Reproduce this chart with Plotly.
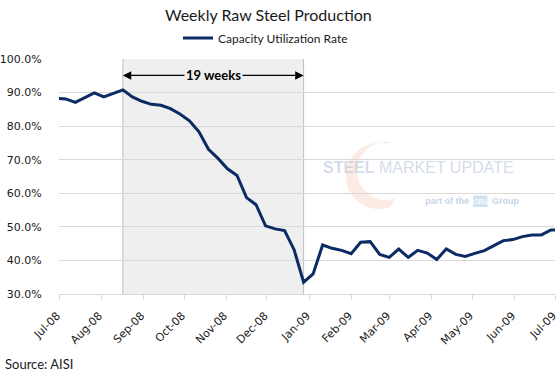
import math
import pandas as pd
import plotly.graph_objects as go

# ---------------- data ----------------
week_start = "2008-06-29"
n_weeks = 54
dates = [d.strftime("%Y-%m-%d") for d in pd.date_range(week_start, periods=n_weeks, freq="7D")]
utilization = [
    88.3, 88.1, 87.1, 88.5, 89.9, 88.7, 89.7, 90.8, 88.7, 87.4,
    86.5, 86.2, 85.2, 83.6, 81.6, 78.3, 73.1, 70.4, 67.3, 65.3,
    58.7, 56.6, 50.3, 49.4, 48.9, 43.2, 33.5, 36.0, 44.6, 43.6,
    43.0, 42.0, 45.4, 45.6, 41.8, 40.9, 43.4, 40.9, 43.0, 42.2,
    40.3, 43.4, 41.8, 41.2, 42.1, 42.9, 44.4, 45.9, 46.2, 47.1,
    47.6, 47.6, 49.1, 49.1,
]
series_name = "Capacity Utilization Rate"
month_ticks = [
    "2008-07-01", "2008-08-01", "2008-09-01", "2008-10-01", "2008-11-01",
    "2008-12-01", "2009-01-01", "2009-02-01", "2009-03-01", "2009-04-01",
    "2009-05-01", "2009-06-01", "2009-07-01",
]
month_labels = [
    "Jul-08", "Aug-08", "Sep-08", "Oct-08", "Nov-08", "Dec-08", "Jan-09",
    "Feb-09", "Mar-09", "Apr-09", "May-09", "Jun-09", "Jul-09",
]
y_ticks = [30, 40, 50, 60, 70, 80, 90, 100]
y_labels = ["30.0%", "40.0%", "50.0%", "60.0%", "70.0%", "80.0%", "90.0%", "100.0%"]
shade_start = "2008-08-17"
shade_end = "2008-12-28"
shade_label = "19 weeks"
arrow_level = 95.1
title_text = "Weekly Raw Steel Production"
source_text = "Source: AISI"

# ---------------- layout geometry ----------------
W, H = 560, 376
L, R, T, B = 59, 5, 59, 82
PW, PH = W - L - R, H - T - B


def px(x):
    return (x - L) / PW


def py(y):
    return (H - B - y) / PH


line_color = "#0c2a63"
grid_color = "#d9d9d9"
tick_font = dict(family="DejaVu Sans", size=11, color="#1a1a1a")
text_font = "Lato"

fig = go.Figure()
fig.add_trace(go.Scatter(
    x=dates, y=utilization, mode="lines", name=series_name,
    line=dict(color=line_color, width=3),
    hoverinfo="x+y",
))

mid_date = (pd.Timestamp(shade_start) + (pd.Timestamp(shade_end) - pd.Timestamp(shade_start)) / 2).strftime("%Y-%m-%d %H:%M")

shapes = [
    dict(type="rect", xref="x", yref="y", x0=shade_start, x1=shade_end, y0=30, y1=100,
         fillcolor="#efefef", line=dict(width=0), layer="below"),
    dict(type="line", xref="x", yref="y", x0=shade_start, x1=shade_start, y0=30, y1=100,
         line=dict(color="#bfbfbf", width=1), layer="below"),
    dict(type="line", xref="x", yref="y", x0=shade_end, x1=shade_end, y0=30, y1=100,
         line=dict(color="#bfbfbf", width=1), layer="below"),
]

# faint watermark crescent (decoration)
cx, cy, r_out = 379, 176, 33
cx2, cy2, r_in = 386, 171, 29
pts_out = []
for i in range(61):
    a = math.radians(80 + i * (290 - 80) / 60.0)
    pts_out.append((cx + r_out * math.cos(a), cy - r_out * math.sin(a)))
pts_in = []
for i in range(61):
    a = math.radians(290 - i * (290 - 78) / 60.0)
    pts_in.append((cx2 + r_in * math.cos(a), cy2 - r_in * math.sin(a)))
path = "M " + " L ".join(f"{px(x):.4f},{py(y):.4f}" for x, y in pts_out + pts_in) + " Z"
shapes.append(dict(type="path", xref="paper", yref="paper", path=path,
                   fillcolor="rgba(240,150,120,0.2)", line=dict(width=0), layer="below"))

# CRU box
shapes.append(dict(type="rect", xref="paper", yref="paper",
                   x0=px(473), x1=px(487.5), y0=py(207), y1=py(195.5),
                   fillcolor="rgba(170,200,235,0.55)", line=dict(width=0), layer="below"))

annotations = [
    dict(text=title_text, xref="paper", yref="paper", x=px(268.5), y=py(14),
         xanchor="center", yanchor="middle", showarrow=False,
         font=dict(family=text_font, size=16, color="#1a1a1a")),
    dict(text=source_text, xref="paper", yref="paper", x=px(3), y=py(363.5),
         xanchor="left", yanchor="middle", showarrow=False,
         font=dict(family=text_font, size=13, color="#1a1a1a")),
    # double-headed arrow
    dict(x=shade_start, y=arrow_level, ax=mid_date, ay=arrow_level, xref="x", yref="y",
         axref="x", ayref="y", text="", showarrow=True, arrowhead=2, arrowsize=1.4,
         arrowwidth=1.2, arrowcolor="#000000"),
    dict(x=shade_end, y=arrow_level, ax=mid_date, ay=arrow_level, xref="x", yref="y",
         axref="x", ayref="y", text="", showarrow=True, arrowhead=2, arrowsize=1.4,
         arrowwidth=1.2, arrowcolor="#000000"),
    dict(x=mid_date, y=arrow_level, xref="x", yref="y", text=f"<b>{shade_label}</b>",
         showarrow=False, bgcolor="#efefef", borderpad=1,
         font=dict(family=text_font, size=13, color="#000000")),
    # watermark text
    dict(text="<b>STEEL</b> MARKET UPDATE", xref="paper", yref="paper", x=px(321), y=py(167),
         xanchor="left", yanchor="middle", showarrow=False,
         font=dict(family="Liberation Sans", size=16, color="rgba(175,190,215,0.55)")),
    dict(text="<b>part of the</b>", xref="paper", yref="paper", x=px(470.5), y=py(201),
         xanchor="right", yanchor="middle", showarrow=False,
         font=dict(family="Liberation Sans", size=9, color="rgba(160,180,215,0.6)")),
    dict(text="<b>CRU</b>", xref="paper", yref="paper", x=px(480.2), y=py(201),
         xanchor="center", yanchor="middle", showarrow=False,
         font=dict(family="Liberation Sans", size=7, color="rgba(255,255,255,0.9)")),
    dict(text="<b>Group</b>", xref="paper", yref="paper", x=px(489.5), y=py(201),
         xanchor="left", yanchor="middle", showarrow=False,
         font=dict(family="Liberation Sans", size=9, color="rgba(160,180,215,0.6)")),
]

fig.update_layout(
    width=W, height=H,
    margin=dict(l=L, r=R, t=T, b=B, pad=0),
    paper_bgcolor="white", plot_bgcolor="white",
    showlegend=True,
    legend=dict(orientation="h", x=px(178), y=py(38), xanchor="left", yanchor="middle",
                font=dict(family=text_font, size=12, color="#1a1a1a"),
                bgcolor="rgba(0,0,0,0)", itemwidth=30),
    shapes=shapes,
    annotations=annotations,
)
fig.update_xaxes(
    type="date", range=[month_ticks[0], month_ticks[-1]],
    tickvals=month_ticks, ticktext=month_labels, tickangle=-45,
    tickfont=tick_font, showgrid=False, showline=True, linecolor=grid_color,
    linewidth=1, ticks="outside", ticklen=5, tickcolor=grid_color, zeroline=False,
    ticklabelshift=-2, ticklabelstandoff=5, ticklabeloverflow="allow",
    automargin=False,
)
fig.update_yaxes(
    range=[30, 100], tickvals=y_ticks, ticktext=y_labels, tickfont=tick_font,
    showgrid=True, gridcolor=grid_color, gridwidth=1, zeroline=False,
    showline=False, ticks="outside", ticklen=14, tickcolor="rgba(0,0,0,0)",
    automargin=False,
)

fig.write_html(
    "out.html",
    config={"displayModeBar": False},
    post_script="document.body.style.margin='0';document.body.style.overflow='hidden';",
)
